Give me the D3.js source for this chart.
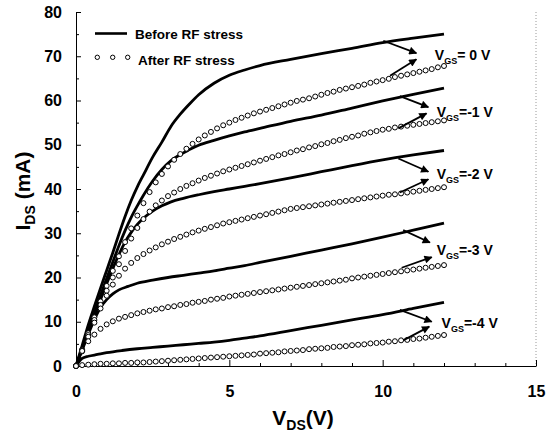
<!DOCTYPE html>
<html lang="en">
<head>
  <meta charset="UTF-8">
  <title>I-V before / after RF stress</title>
  <script src="https://d3js.org/d3.v7.min.js"></script>
  <style>
    body { margin: 0; padding: 0; background: #fff; }
    svg { display: block; font-family: Arial, "Liberation Sans", sans-serif; font-weight: bold; }
    .axis path, .axis line { stroke: #000; stroke-width: 1px; }
    .axis text { font-size: 16px; font-weight: bold; fill: #000; }
    .before { fill: none; stroke: #000; stroke-width: 2.8px; stroke-linejoin: round; }
    .after { fill: #fff; stroke: #000; stroke-width: 1px; }
    .arrow { stroke: #000; stroke-width: 1.8px; fill: none; }
  </style>
</head>
<body>
  <svg id="chart"></svg>

  <script>
    // before RF stress: [VDS, IDS]
    const before0 = [[0,0],[0.2,4.6],[0.4,9.3],[0.6,13.5],[0.8,17.6],[1.0,21.6],[1.2,25.6],[1.4,29.8],[1.6,33.8],[1.8,37.4],[2.0,40.5],[2.2,43.2],[2.5,47.2],[2.8,50.6],[3.1,54.2],[3.4,56.9],[3.7,59.2],[4.0,61.3],[4.5,63.9],[5.0,65.7],[5.5,66.9],[6.0,67.9],[7.0,69.3],[8.0,70.6],[9.0,71.8],[10.0,73.1],[11.0,74.1],[12.0,75.0]];
    const before1 = [[0,0],[0.2,4.0],[0.4,8.0],[0.6,12.0],[0.8,16.0],[1.0,19.8],[1.2,23.5],[1.4,27.2],[1.6,30.6],[1.8,33.6],[2.0,36.2],[2.2,38.6],[2.5,41.8],[2.8,44.4],[3.1,46.4],[3.4,47.8],[3.7,48.9],[4.0,49.9],[4.5,51.0],[5.0,52.0],[5.5,52.9],[6.0,53.7],[7.0,55.3],[8.0,56.7],[9.0,58.3],[10.0,59.9],[11.0,61.4],[12.0,62.8]];
    const before2 = [[0,0],[0.2,3.8],[0.4,7.6],[0.6,11.4],[0.8,15.0],[1.0,18.6],[1.2,22.0],[1.4,25.2],[1.6,28.0],[1.8,30.2],[2.0,32.0],[2.2,33.4],[2.5,35.0],[2.8,36.2],[3.1,37.1],[3.5,37.9],[4.0,38.7],[4.5,39.4],[5.0,40.0],[5.5,40.6],[6.0,41.2],[7.0,42.5],[8.0,43.9],[9.0,45.3],[10.0,46.6],[11.0,47.7],[12.0,48.7]];
    const before3 = [[0,0],[0.2,3.6],[0.4,7.2],[0.6,10.5],[0.8,13.2],[1.0,15.0],[1.2,16.3],[1.4,17.2],[1.7,18.0],[2.0,18.7],[2.5,19.4],[3.0,20.0],[3.5,20.5],[4.0,21.0],[4.5,21.5],[5.0,22.1],[5.5,22.7],[6.0,23.4],[7.0,24.8],[8.0,26.2],[9.0,27.6],[10.0,29.1],[11.0,30.7],[12.0,32.3]];
    const before4 = [[0,0],[0.1,1.0],[0.2,1.7],[0.4,2.2],[0.7,2.6],[1.0,3.0],[1.5,3.5],[2.0,3.9],[2.5,4.2],[3.0,4.5],[3.5,4.8],[4.0,5.1],[4.5,5.4],[5.0,5.8],[5.5,6.3],[6.0,6.8],[7.0,8.0],[8.0,9.2],[9.0,10.4],[10.0,11.6],[11.0,13.0],[12.0,14.4]];

    // after RF stress: one circle per VDS step
    const vds = [0,0.2,0.4,0.6,0.8,1.0,1.2,1.4,1.6,1.8,2.0,2.2,2.4,2.6,2.8,3.0,3.2,3.4,3.6,3.8,4.0,4.2,4.4,4.6,4.8,5.0,5.2,5.4,5.6,5.8,6.0,6.2,6.4,6.6,6.8,7.0,7.2,7.4,7.6,7.8,8.0,8.2,8.4,8.6,8.8,9.0,9.2,9.4,9.6,9.8,10.0,10.2,10.4,10.6,10.8,11.0,11.2,11.4,11.6,11.8,12.0];
    const after0 = [0,3.7,7.4,11.0,14.6,18.1,21.5,24.8,28.0,31.1,34.0,36.8,39.3,41.5,43.4,45.1,46.6,47.9,49.1,50.2,51.2,52.1,52.9,53.7,54.4,55.0,55.6,56.1,56.6,57.1,57.5,57.9,58.3,58.7,59.1,59.5,59.9,60.2,60.5,60.9,61.3,61.7,62.0,62.4,62.7,63.0,63.3,63.6,64.0,64.3,64.6,64.9,65.3,65.6,65.9,66.2,66.5,66.8,67.1,67.5,67.8];
    const after1 = [0,3.5,7.0,10.4,13.8,17.0,20.0,23.0,26.0,28.8,31.2,33.2,34.9,36.3,37.4,38.4,39.2,40.0,40.7,41.3,41.9,42.5,43.0,43.5,44.0,44.4,44.8,45.2,45.6,46.0,46.4,46.8,47.2,47.6,47.9,48.3,48.7,49.0,49.4,49.7,50.1,50.4,50.8,51.1,51.5,51.8,52.1,52.5,52.8,53.1,53.4,53.6,53.9,54.1,54.3,54.5,54.7,54.9,55.1,55.3,55.5];
    const after2 = [0,3.3,6.6,9.8,13.0,15.9,18.4,20.4,22.0,23.3,24.4,25.3,26.1,26.8,27.5,28.1,28.7,29.2,29.7,30.2,30.6,31.0,31.4,31.8,32.2,32.5,32.8,33.1,33.4,33.7,34.0,34.3,34.6,34.9,35.2,35.5,35.7,35.9,36.1,36.3,36.5,36.7,36.9,37.1,37.3,37.5,37.7,37.9,38.1,38.3,38.5,38.7,38.8,39.0,39.2,39.4,39.6,39.8,40.0,40.2,40.4];
    const after3 = [0,3.4,5.6,7.1,8.4,9.4,10.1,10.7,11.1,11.5,11.9,12.2,12.5,12.8,13.0,13.3,13.5,13.8,14.0,14.3,14.5,14.7,15.0,15.2,15.4,15.7,15.9,16.1,16.3,16.5,16.7,16.9,17.1,17.3,17.5,17.7,17.9,18.1,18.3,18.5,18.7,18.9,19.1,19.3,19.5,19.8,20.0,20.2,20.4,20.6,20.8,21.0,21.2,21.4,21.6,21.8,22.0,22.2,22.4,22.6,22.8];
    const after4 = [0,0.2,0.3,0.4,0.5,0.5,0.6,0.6,0.7,0.7,0.8,0.8,0.9,1.0,1.1,1.2,1.3,1.4,1.5,1.6,1.7,1.8,1.9,2.0,2.1,2.2,2.3,2.4,2.5,2.6,2.8,2.9,3.0,3.1,3.3,3.4,3.5,3.6,3.8,3.9,4.0,4.1,4.3,4.4,4.5,4.7,4.8,4.9,5.1,5.2,5.3,5.5,5.6,5.8,5.9,6.1,6.2,6.4,6.6,6.8,7.0];

    // VGS annotations: arrow from the before curve and from the after curve
    const vgsLabels = ['0', '-1', '-2', '-3', '-4'];
    const arrowDownFrom = [[10.02,73.5],[10.56,61.0],[10.51,46.9],[10.67,30.7],[10.56,12.7]];
    const arrowDownTo = [[11.1,70.7],[11.49,58.5],[11.49,43.9],[11.54,27.9],[11.6,10.0]];
    const arrowUpFrom = [[10.24,65.6],[10.51,53.7],[10.56,39.2],[10.62,22.2],[10.67,5.8]];
    const arrowUpTo = [[11.1,69.3],[11.43,57.1],[11.49,42.2],[11.6,24.6],[11.52,8.9]];
    const labelAt = [[11.7,70.3],[11.76,57.5],[11.76,43.5],[11.76,26.2],[11.92,9.7]];

    const xTicks = [0, 5, 10, 15];
    const xMinor = [1, 2, 3, 4, 6, 7, 8, 9, 11, 12, 13, 14];
    const yTicks = [0, 10, 20, 30, 40, 50, 60, 70, 80];
    const yMinor = [5, 15, 25, 35, 45, 55, 65, 75];

    const width = 546, height = 442;
    const svg = d3.select('#chart').attr('width', width).attr('height', height);

    const x = d3.scaleLinear().domain([0, 15]).range([76, 536]);
    const y = d3.scaleLinear().domain([0, 80]).range([366, 12]);

    // frame on the right, faint and dotted
    svg.append('line')
      .attr('x1', x(15)).attr('x2', x(15))
      .attr('y1', y(80)).attr('y2', y(0))
      .attr('stroke', '#999').attr('stroke-dasharray', '1,2');

    // axes, ticks pointing inward
    svg.append('g').attr('class', 'axis')
      .attr('transform', `translate(0,${y(0)})`)
      .call(d3.axisBottom(x).tickValues(xMinor).tickSizeInner(-3).tickSizeOuter(0).tickFormat(''))
      .call(g => g.select('.domain').remove());
    svg.append('g').attr('class', 'axis')
      .attr('transform', `translate(0,${y(0)})`)
      .call(d3.axisBottom(x).tickValues(xTicks).tickSizeInner(-6).tickSizeOuter(0).tickPadding(20));

    svg.append('g').attr('class', 'axis')
      .attr('transform', `translate(${x(0)},0)`)
      .call(d3.axisLeft(y).tickValues(yMinor).tickSizeInner(-3).tickSizeOuter(0).tickFormat(''))
      .call(g => g.select('.domain').remove());
    svg.append('g').attr('class', 'axis')
      .attr('transform', `translate(${x(0)},0)`)
      .call(d3.axisLeft(y).tickValues(yTicks).tickSizeInner(-5).tickSizeOuter(0).tickPadding(14));

    // axis titles
    const yt = svg.append('text')
      .attr('transform', `translate(30,191) rotate(-90)`)
      .attr('text-anchor', 'middle')
      .style('font-size', '21px');
    yt.append('tspan').text('I');
    yt.append('tspan').attr('dy', 5).style('font-size', '14px').text('DS');
    yt.append('tspan').attr('dy', -5).text(' (mA)');

    const xt = svg.append('text')
      .attr('x', 303).attr('y', 425)
      .attr('text-anchor', 'middle')
      .style('font-size', '21px');
    xt.append('tspan').text('V');
    xt.append('tspan').attr('dy', 5).style('font-size', '14px').text('DS');
    xt.append('tspan').attr('dy', -5).text('(V)');

    // curves
    const line = d3.line()
      .x(d => x(d[0]))
      .y(d => y(d[1]))
      .curve(d3.curveMonotoneX);

    const beforeSeries = [before0, before1, before2, before3, before4];
    const afterSeries = [after0, after1, after2, after3, after4];

    svg.selectAll('.before')
      .data(beforeSeries)
      .enter().append('path')
      .attr('class', 'before')
      .attr('d', line);

    afterSeries.forEach(vals => {
      svg.append('g').selectAll('circle')
        .data(vals)
        .enter().append('circle')
        .attr('class', 'after')
        .attr('r', 2.5)
        .attr('cx', (d, i) => x(vds[i]))
        .attr('cy', d => y(d));
    });

    // arrows + VGS labels
    svg.append('defs').append('marker')
      .attr('id', 'head')
      .attr('viewBox', '0 0 10 10')
      .attr('refX', 9).attr('refY', 5)
      .attr('markerUnits', 'userSpaceOnUse')
      .attr('markerWidth', 10).attr('markerHeight', 8)
      .attr('orient', 'auto')
      .append('path')
      .attr('d', 'M0,0 L10,5 L0,10 z')
      .attr('fill', '#000');

    vgsLabels.forEach((v, i) => {
      [[arrowDownFrom[i], arrowDownTo[i]], [arrowUpFrom[i], arrowUpTo[i]]].forEach(([a, b]) => {
        svg.append('line')
          .attr('class', 'arrow')
          .attr('x1', x(a[0])).attr('y1', y(a[1]))
          .attr('x2', x(b[0])).attr('y2', y(b[1]))
          .attr('marker-end', 'url(#head)');
      });

      const t = svg.append('text')
        .attr('x', x(labelAt[i][0]))
        .attr('y', y(labelAt[i][1]) + 5)
        .style('font-size', '14px');
      t.append('tspan').text('V');
      t.append('tspan').attr('dy', 4).style('font-size', '9px').text('GS');
      t.append('tspan').attr('dy', -4).text(v === '0' ? '= 0 V' : '=' + v + ' V');
    });

    // legend
    const legend = svg.append('g');
    legend.append('line')
      .attr('x1', 95).attr('x2', 127)
      .attr('y1', 33.5).attr('y2', 33.5)
      .attr('stroke', '#000').attr('stroke-width', 2.6);
    legend.append('text')
      .attr('x', 135).attr('y', 38.5)
      .style('font-size', '13.5px')
      .text('Before RF stress');
    legend.selectAll('circle')
      .data([97.3, 112.7, 127.7])
      .enter().append('circle')
      .attr('class', 'after')
      .attr('r', 2.2)
      .attr('cx', d => d).attr('cy', 57.3);
    legend.append('text')
      .attr('x', 138).attr('y', 65)
      .style('font-size', '13.5px')
      .text('After RF stress');
  </script>
</body>
</html>
